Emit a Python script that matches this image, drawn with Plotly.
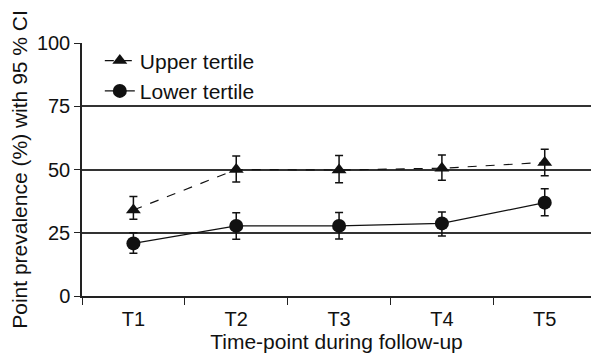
import plotly.graph_objects as go

categories = ["T1", "T2", "T3", "T4", "T5"]
upper_vals = [34.0, 50.0, 49.8, 50.5, 52.8]
upper_hi = [39.3, 55.3, 55.5, 55.7, 58.0]
upper_lo = [30.3, 45.1, 44.8, 45.8, 47.5]
lower_vals = [20.8, 27.7, 27.7, 28.7, 36.9]
lower_hi = [25.0, 32.9, 33.0, 33.2, 42.4]
lower_lo = [16.9, 22.4, 22.5, 23.7, 31.7]
y_ticks = [0, 25, 50, 75, 100]

FONT = "Liberation Sans, Arial, Helvetica, sans-serif"

def err(vals, hi, lo):
    return dict(type="data", symmetric=False,
                array=[h - v for h, v in zip(hi, vals)],
                arrayminus=[v - l for v, l in zip(vals, lo)],
                color="#111", thickness=1.5, width=4)

fig = go.Figure()
fig.add_trace(go.Scatter(
    x=categories, y=upper_vals, name="Upper tertile", mode="lines+markers",
    line=dict(color="#111", width=1.2, dash="dash"),
    marker=dict(symbol="triangle-up", size=13, color="#111"),
    error_y=err(upper_vals, upper_hi, upper_lo)))
fig.add_trace(go.Scatter(
    x=categories, y=lower_vals, name="Lower tertile", mode="lines+markers",
    line=dict(color="#111", width=1.2),
    marker=dict(symbol="circle", size=14, color="#111"),
    error_y=err(lower_vals, lower_hi, lower_lo)))

fig.update_layout(
    width=591, height=356,
    margin=dict(l=82, r=0, t=43, b=60),
    paper_bgcolor="white", plot_bgcolor="white",
    font=dict(family=FONT, size=21, color="#111"),
    showlegend=True,
    legend=dict(x=0.035, y=1.01, xanchor="left", yanchor="top",
                bgcolor="rgba(0,0,0,0)", font=dict(size=21),
                itemwidth=30, tracegroupgap=2),
    xaxis=dict(type="category", range=[-0.5, 4.45],
               tickson="boundaries", ticks="outside", ticklen=7,
               tickwidth=1.3, tickcolor="#222",
               showline=True, linecolor="#222", linewidth=1.5,
               showgrid=False, zeroline=False,
               tickfont=dict(size=20), ticklabelstandoff=4,
               title=dict(text="Time-point during follow-up", standoff=2,
                          font=dict(size=21))),
    yaxis=dict(range=[0, 100], tickvals=y_ticks, ticks="outside", ticklen=6,
               tickwidth=1.3, tickcolor="#222",
               showline=True, linecolor="#222", linewidth=1.5,
               showgrid=True, gridcolor="#333", gridwidth=1.5,
               zeroline=False, tickfont=dict(size=20),
               title=dict(text="Point prevalence (%) with 95 % CI", standoff=4,
                          font=dict(size=21))),
)

fig.write_html("out.html")
